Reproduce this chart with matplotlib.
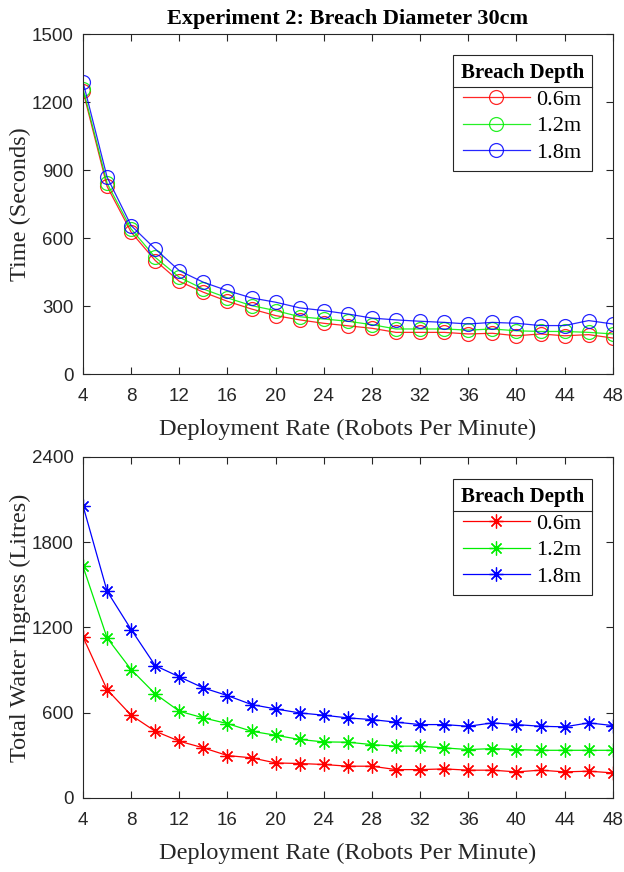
import numpy as np
import matplotlib.pyplot as plt
from matplotlib.lines import Line2D

# deployment rate (robots per minute)
rate = np.arange(4, 50, 2)

# time to seal breach (seconds), per breach depth
time_06 = [1249, 828, 626, 501, 409, 361, 321, 287, 258, 239, 224, 213,
           202, 184, 184, 184, 177, 180, 169, 177, 169, 174, 159]
time_12 = [1259, 842, 640, 515, 427, 375, 336, 302, 280, 253, 243, 233,
           218, 199, 199, 199, 194, 199, 191, 188, 188, 184, 177]
time_18 = [1289, 869, 655, 552, 456, 405, 368, 336, 317, 292, 280, 265,
           247, 239, 233, 228, 221, 228, 224, 214, 214, 236, 221]

# total water ingress (litres), per breach depth
water_06 = [1133, 762, 582, 469, 399, 352, 298, 282, 246, 242, 235, 223,
            223, 199, 199, 204, 195, 195, 183, 195, 183, 188, 176]
water_12 = [1630, 1126, 903, 732, 610, 563, 523, 469, 441, 411, 394, 392,
            375, 364, 364, 352, 340, 347, 340, 335, 335, 335, 335]
water_18 = [2057, 1455, 1185, 931, 852, 774, 720, 657, 626, 598, 582, 563,
            551, 533, 516, 516, 504, 528, 516, 504, 500, 528, 509]

depths = ['0.6m', '1.2m', '1.8m']
colors = ['#ff0000', '#00ee00', '#0000ff']

serif = 'Liberation Serif'
tickfont = ['Liberation Sans Narrow', 'Liberation Sans', 'DejaVu Sans']

fig = plt.figure(figsize=(6.24, 8.72), dpi=100)
ax1 = fig.add_axes([0.133, 0.571, 0.849, 0.39])
ax2 = fig.add_axes([0.133, 0.085, 0.849, 0.391])


def style(ax, ymax, ystep, ylabel):
    ax.set_xlim(4, 48)
    ax.set_ylim(0, ymax)
    ax.set_xticks(np.arange(4, 49, 4))
    ax.set_yticks(np.arange(0, ymax + 1, ystep))
    ax.tick_params(direction='in', top=True, right=True, length=5,
                   width=0.8, colors='#262626', labelsize=13.5)
    ax.tick_params(axis='x', pad=10)
    ax.tick_params(axis='y', pad=6.5)
    for lab in ax.get_xticklabels() + ax.get_yticklabels():
        lab.set_family(tickfont)
    for sp in ax.spines.values():
        sp.set_color('#262626')
        sp.set_linewidth(0.8)
    ax.set_xlabel('Deployment Rate (Robots Per Minute)', family=serif,
                  fontsize=17.5, color='#262626', labelpad=10)
    ax.set_ylabel(ylabel, family=serif, fontsize=17.5, color='#262626',
                  labelpad=1)


def add_legend(ax, loc_y):
    leg = ax.legend(title='Breach Depth', loc='upper right',
                    bbox_to_anchor=(0.96, loc_y), fancybox=False,
                    edgecolor='#262626', framealpha=1,
                    prop={'family': serif, 'size': 16},
                    handlelength=3.0, borderpad=0.35, labelspacing=0.28,
                    handletextpad=0.3, borderaxespad=0)
    leg.get_title().set_fontfamily(serif)
    leg.get_title().set_fontweight('bold')
    leg.get_title().set_fontsize(15)
    leg.get_frame().set_linewidth(0.8)
    return leg


for vals, c, lab in zip([time_06, time_12, time_18], colors, depths):
    ax1.plot(rate, vals, color=c, lw=0.9, marker='o', markersize=10,
             markerfacecolor='none', markeredgewidth=0.9, label=lab,
             alpha=0.85)
style(ax1, 1500, 300, 'Time (Seconds)')
ax1.set_title('Experiment 2: Breach Diameter 30cm', family=serif,
              fontweight='bold', fontsize=16, pad=7)
leg1 = add_legend(ax1, 0.938)

for vals, c, lab in zip([water_06, water_12, water_18], colors, depths):
    ax2.plot(rate, vals, color=c, lw=0.9, marker=(8, 2, 0), markersize=10,
             markeredgewidth=0.9, label=lab)
style(ax2, 2400, 600, 'Total Water Ingress (Litres)')
leg2 = add_legend(ax2, 0.935)

# separator line under legend titles (MATLAB-style)
fig.canvas.draw()
inv = fig.transFigure.inverted()
for leg in (leg1, leg2):
    fb = leg.get_frame().get_window_extent()
    tb = leg.get_title().get_window_extent()
    y = tb.y0 - 4
    (x0, yy), (x1, _) = inv.transform([(fb.x0, y), (fb.x1, y)])
    fig.add_artist(Line2D([x0, x1], [yy, yy], color='#262626', lw=0.8))

fig.savefig('out.png', dpi=100)
